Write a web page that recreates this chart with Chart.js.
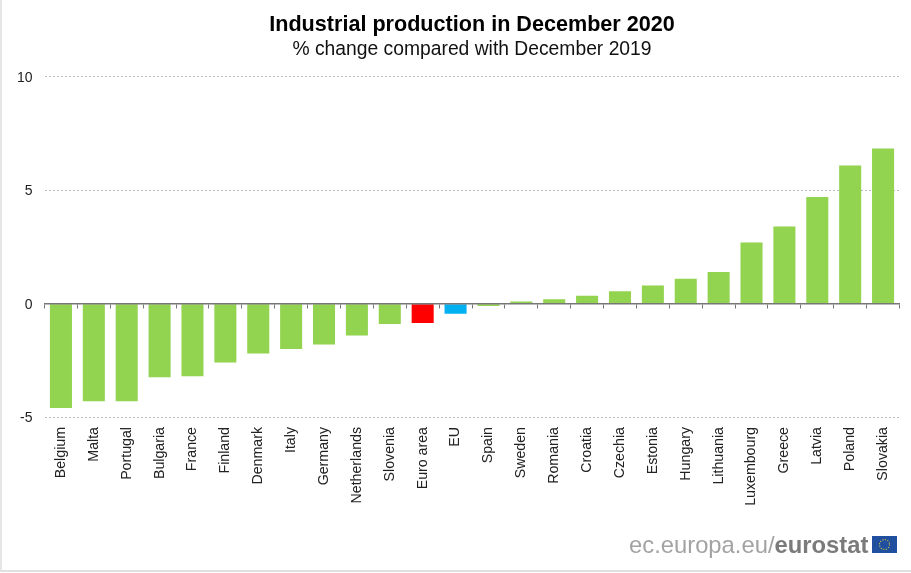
<!DOCTYPE html>
<html><head><meta charset="utf-8">
<script src="https://cdn.jsdelivr.net/npm/chart.js@4/dist/chart.umd.min.js"></script>
<style>
html,body{margin:0;padding:0;background:#fff;width:911px;height:573px;overflow:hidden}
#wrap{position:relative;width:911px;height:573px}
#frame{position:absolute;left:0;top:0;width:909px;height:570px;border-left:2px solid #e6e6e6;border-bottom:2px solid #e0e0e0;pointer-events:none}
#brand{position:absolute;left:629px;top:530px;font:23.8px "Liberation Sans",Arial,sans-serif;color:#a3a3a3;white-space:nowrap;line-height:30px}
#brand b{color:#7b7b7b}
#flag{position:absolute;left:872px;top:536px}
</style></head><body>
<div id="wrap">
<canvas id="c" width="911" height="573" style="display:block;width:911px;height:573px"></canvas>
<div id="frame"></div>
<div id="brand">ec.europa.eu/<b>eurostat</b></div>
<svg id="flag" width="25" height="17" viewBox="0 0 25 17"><rect width="25" height="17" fill="#1f4f9e"/><circle cx="12.5" cy="8.5" r="5" fill="none" stroke="#d8c63a" stroke-width="1.1" stroke-dasharray="1.1 1.5"/></svg>
</div>
<script>
const titleText = "Industrial production in December 2020";
const subtitleText = "% change compared with December 2019";
const categories = ["Belgium","Malta","Portugal","Bulgaria","France","Finland","Denmark","Italy","Germany","Netherlands","Slovenia","Euro area","EU","Spain","Sweden","Romania","Croatia","Czechia","Estonia","Hungary","Lithuania","Luxembourg","Greece","Latvia","Poland","Slovakia"];
const values = [-4.6,-4.3,-4.3,-3.25,-3.2,-2.6,-2.2,-2.0,-1.8,-1.4,-0.9,-0.85,-0.45,-0.1,0.1,0.2,0.35,0.55,0.8,1.1,1.4,2.7,3.4,4.7,6.1,6.85];
const colorGreen = "#92D34F", colorEuro = "#FF0000", colorEU = "#00B0F0";
const barColors = categories.map(c => c === "Euro area" ? colorEuro : c === "EU" ? colorEU : colorGreen);
const FONT = '"Liberation Sans", Arial, sans-serif';

new Chart(document.getElementById("c"), {
  type: "bar",
  data: { labels: categories, datasets: [{ data: values, backgroundColor: barColors, borderWidth: 0, barPercentage: 0.67, categoryPercentage: 1 }] },
  options: {
    responsive: false, animation: false, devicePixelRatio: 1,
    layout: { padding: { left: 0, right: 11.5, top: 0, bottom: 0 } },
    plugins: {
      legend: { display: false }, tooltip: { enabled: false },
      title: { display: true, text: titleText, color: "#000", fullSize: false,
        font: { family: FONT, size: 21.6, weight: "bold" }, padding: { top: 12, bottom: 0 } },
      subtitle: { display: true, text: subtitleText, color: "#111", fullSize: false,
        font: { family: FONT, size: 19.3, weight: "normal" }, padding: { top: 0, bottom: 15.9 } }
    },
    scales: {
      x: { position: "bottom", offset: true, grid: { display: false }, border: { display: false },
        afterFit: s => { s.height = 156; },
        ticks: { autoSkip: false, minRotation: 90, maxRotation: 90, color: "#222", padding: 2,
          font: { family: FONT, size: 14.2 } } },
      x2: { type: "category", labels: categories, position: { y: 0 }, offset: true,
        grid: { offset: true, drawOnChartArea: false, drawTicks: true, tickLength: 4, color: "#777", z: 1 },
        border: { display: true, color: "#777", width: 1.5, z: 1 },
        ticks: { display: false } },
      y: { min: -5, max: 10, position: "left",
        afterFit: s => { s.width = 44.5; },
        border: { display: false, dash: [2, 2] },
        grid: { drawTicks: false, lineWidth: 1, color: c => c.tick.value === 0 ? "rgba(0,0,0,0)" : "#bdbdbd" },
        ticks: { stepSize: 5, color: "#222", padding: 12, labelOffset: 1, font: { family: FONT, size: 14 } } }
    }
  }
});
</script>
</body></html>
